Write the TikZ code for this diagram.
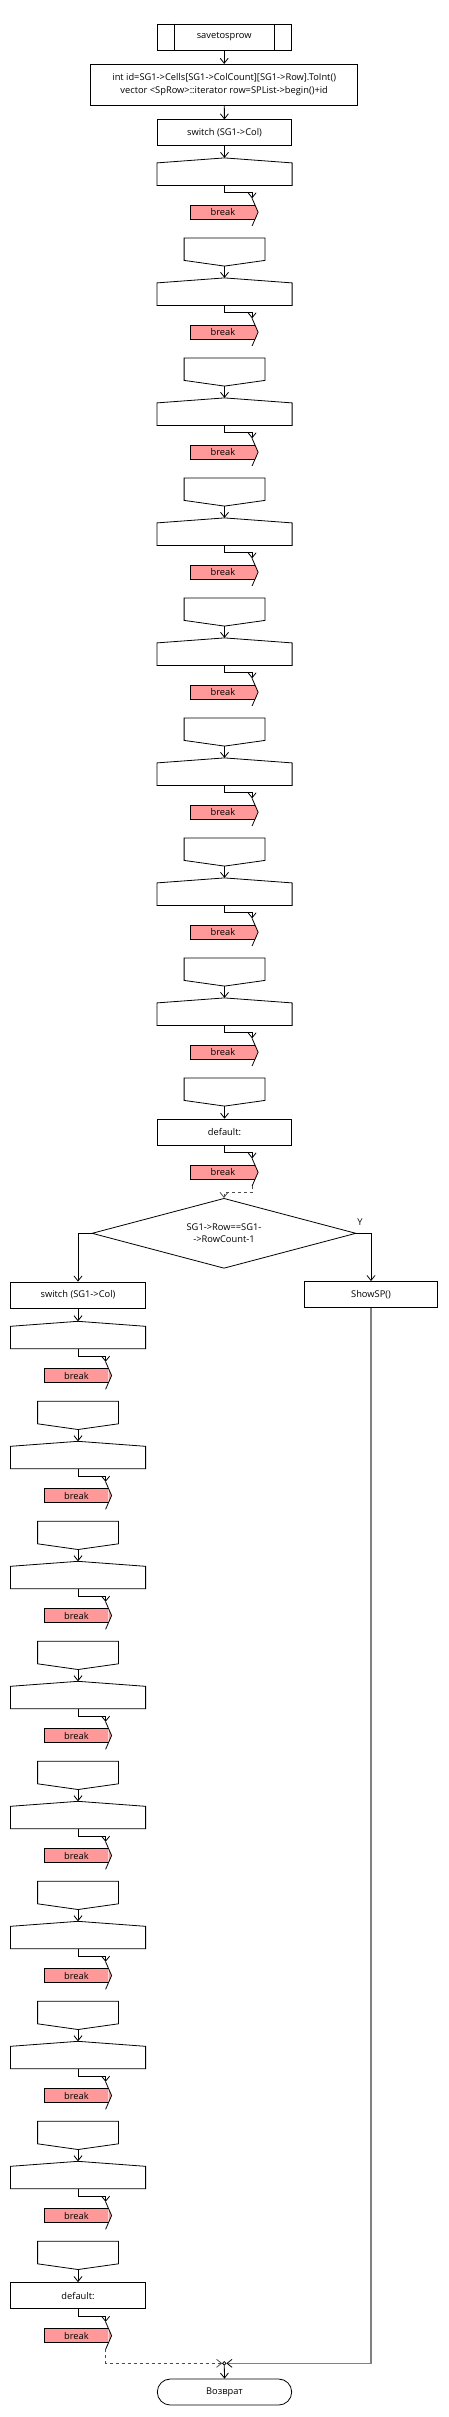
\documentclass[tikz,border=0pt]{standalone}
\usepackage{fontspec}
\setmainfont{Open Sans}
\usetikzlibrary{arrows.meta,positioning,shapes.geometric}

\definecolor{brkpink}{RGB}{255,153,153}
\newcommand{\fsz}{\fontsize{9.3}{12.5}\selectfont}

\tikzset{
  blk/.style={draw, rectangle, inner sep=0pt, minimum height=26pt, minimum width=134.4pt, align=center, font=\fsz},
  casew/.style={rectangle, inner sep=0pt, minimum width=134.4pt, minimum height=21.7pt},
  casen/.style={rectangle, inner sep=0pt, minimum width=80pt, minimum height=21.7pt},
  brk/.style={rectangle, fill=brkpink, inner sep=0pt, minimum width=63.7pt, minimum height=13.3pt, font=\fsz},
  arr/.style={-{Straight Barb[length=5pt,width=8pt]}},
  dsh/.style={dashed, draw=black!70},
  gry/.style={draw=black!50, line width=1.4pt},
}

\begin{document}
\begin{tikzpicture}[x=1pt, y=-1pt, line width=0.8pt]
\useasboundingbox (0,0) rectangle (449,2417);

% top part
\node[blk] (start) at (224.2,37) {savetosprow};
\draw ([xshift=17.3pt]start.north west) -- ([xshift=17.3pt]start.south west)
      ([xshift=-17.3pt]start.north east) -- ([xshift=-17.3pt]start.south east);
\node[blk, minimum width=267pt, minimum height=41pt] (init) at (224.2,84.8)
  {int id=SG1->Cells[SG1->ColCount][SG1->Row].ToInt()\\vector <SpRow>::iterator row=SPList->begin()+id};
\node[blk] (swu) at (224.5,132.85) {switch (SG1->Col)};
\draw[arr] (start) -- (init);
\draw[arr] (init) -- (swu);

% condition
\node[diamond, draw, aspect=3.77, minimum width=264pt, minimum height=70pt, inner sep=0pt,
  align=center, font=\fsz] (cond) at (224,1233.3) {SG1->Row==SG1-\\->RowCount-1};
\node[font=\fsz] (ylab) at (360,1222) {Y};
\node[blk, minimum width=132.3pt] (sp) at (371,1294.5) {ShowSP()};
\node[blk] (swl) at (78,1295) {switch (SG1->Col)};
\draw[arr] (cond.east) -| (sp.north);
\draw[arr] (cond.west) -| (swl.north);

% both switches
\foreach \k/\cx/\dy in {u/224.5/0, l/78/1163.4} {
  \foreach \i in {1,...,8} {
    \pgfmathsetmacro{\yo}{\dy+120*(\i-1)}
    \node[casew] (w\k\i) at (\cx,174.15+\yo) {};
    \draw (w\k\i.north west) -- ([yshift=5pt]w\k\i.north) coordinate (wt\k\i)
      -- (w\k\i.north east) -- (w\k\i.south east) -- (w\k\i.south west) -- cycle;
    \node[casen] (n\k\i) at (\cx,249.15+\yo) {};
    \draw (n\k\i.south west) -- (n\k\i.north west) -- (n\k\i.north east)
      -- (n\k\i.south east) -- ([yshift=-5.7pt]n\k\i.south) coordinate (np\k\i) -- cycle;
  }
  \node[blk, below=12.6pt of np\k8] (w\k9) {default:};
  \draw[arr] (sw\k) -- (wt\k1);
  \foreach \i [count=\j from 2] in {1,...,7}
    \draw[arr] (np\k\i) -- (wt\k\j);
  \draw[arr] (np\k8) -- (w\k9);
  \foreach \i in {1,...,9} {
    \node[brk, below=19.7pt of w\k\i, xshift=-1.65pt] (b\k\i) {break};
    \fill[brkpink] (b\k\i.north east) -- ([xshift=3pt]b\k\i.east) -- (b\k\i.south east) -- cycle;
    \draw (b\k\i.north east) -- (b\k\i.north west) -- (b\k\i.south west) -- (b\k\i.south east);
    \draw ([xshift=-3pt,yshift=6.7pt]b\k\i.north east) coordinate (bt\k\i)
      -- ([xshift=3pt]b\k\i.east) -- ([xshift=-3pt,yshift=-6.7pt]b\k\i.south east) coordinate (bb\k\i);
    \draw[arr] (w\k\i.south) -- ++(0,7.3) -| (bt\k\i);
  }
}

\draw[dsh, arr] (bbu9) -- ++(0,6.7) -| (cond.north);

% end
\node[circle, draw, fill=white, inner sep=0pt, minimum size=3.4pt] (jn) at (224.3,2363.3) {};
\node[blk, rounded corners=13pt] (ret) at (224.5,2392) {Возврат};
\draw[gry, -{Straight Barb[length=5pt,width=8pt,color=black,line width=0.8pt]}] (sp.south) |- (jn.east);
\draw[dsh, arr] (bbl9) |- (jn.west);
\draw[arr] (jn.south) -- (ret.north);
\end{tikzpicture}
\end{document}
